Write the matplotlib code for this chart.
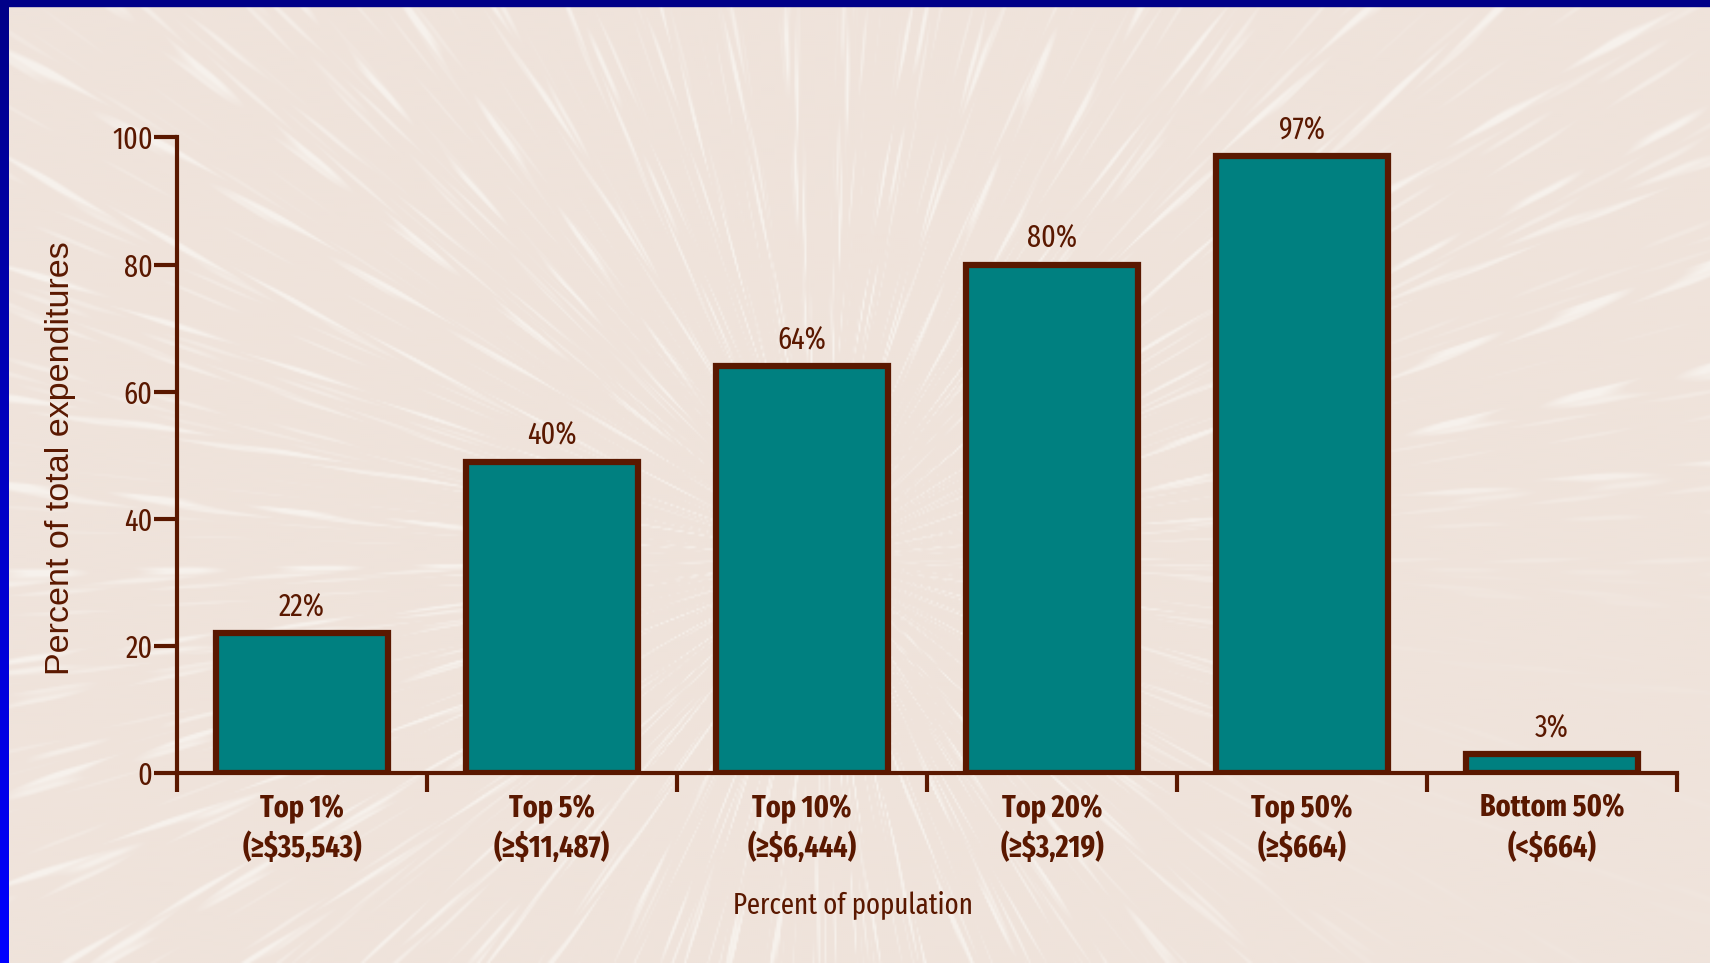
import numpy as np
import matplotlib
matplotlib.use('Agg')
import matplotlib.pyplot as plt
import matplotlib.font_manager as fm
from matplotlib.patches import Rectangle

# data
groups = ['Top 1%', 'Top 5%', 'Top 10%', 'Top 20%', 'Top 50%', 'Bottom 50%']
cutoffs = ['(\u2265$35,543)', '(\u2265$11,487)', '(\u2265$6,444)', '(\u2265$3,219)', '(\u2265$664)', '(<$664)']
heights = [22, 49, 64, 80, 97, 3]          # bar heights as drawn
pct_labels = ['22%', '40%', '64%', '80%', '97%', '3%']   # labels as printed
yticks = [0, 20, 40, 60, 80, 100]

brown = '#5a1800'
teal = '#008080'
plt.rcParams['font.family'] = ['Liberation Sans', 'DejaVu Sans']


# look for a condensed sans face among the installed fonts
def find_narrow(bold):
    want = 700 if bold else 400
    order = ['ExtraCondensed', 'Narrow', 'Condensed', 'SemiCondensed']
    best, best_key = None, None
    for f in fm.fontManager.ttflist:
        fn = f.fname.replace('-', '').replace('_', '')
        if f.style != 'normal':
            continue
        rank = None
        for i, tag in enumerate(order):
            if tag in fn and not (tag == 'Condensed' and ('Extra' in fn or 'Semi' in fn)):
                rank = i
                break
        if rank is None:
            continue
        wt = f.weight if isinstance(f.weight, int) else fm.weight_dict.get(f.weight, 400)
        key = (rank, abs(wt - want))
        if best_key is None or key < best_key:
            best, best_key = f.fname, key
    if best is None:
        return fm.FontProperties(family='Liberation Sans', weight='bold' if bold else 'normal')
    return fm.FontProperties(fname=best)


reg = find_narrow(False)
bld = find_narrow(True)

W, H = 1710, 963
fig = plt.figure(figsize=(W / 100, H / 100), dpi=100)

# --- background: beige with soft light streaks radiating from the middle
h, w = 481, 855
yy, xx = np.mgrid[0:h, 0:w]
cx, cy = 0.48 * w, 0.58 * h
a = np.arctan2(yy - cy, xx - cx)
r = np.hypot(yy - cy, xx - cx)
streak = (0.35 * np.sin(53 * a) + 0.25 * np.sin(119 * a + 1.1)
          + 0.2 * np.sin(241 * a + 2.3) + 0.2 * np.sin(467 * a + 0.4))
s = np.clip((streak - 0.1) / 0.5, 0, 1)
dash = np.clip(1.6 * (0.5 + 0.5 * np.sin(r / 11 + 4 * np.sin(83 * a))) - 0.4, 0, 1)
near = np.clip(r / 80, 0, 1)
fade = 1 - 0.85 * np.clip((xx / w - 0.62) / 0.2, 0, 1) * np.clip((yy / h - 0.45) / 0.2, 0, 1)
mask = (s * dash * near * fade * 0.7)[..., None]
base = np.array([239, 227, 219]) / 255
white = np.array([250, 248, 244]) / 255
img = base * (1 - mask) + white * mask
bg = fig.add_axes([0, 0, 1, 1], zorder=0)
bg.imshow(img, aspect='auto', extent=[0, 1, 0, 1], interpolation='bilinear')
bg.axis('off')

# blue frame: top strip and left strip with gradient
fig.patches.append(Rectangle((0, 1 - 6 / H), 1, 6 / H, transform=fig.transFigure,
                             color='#000088', zorder=5))
lb = fig.add_axes([0, 0, 8 / W, 1], zorder=5)
grad = np.linspace(0, 1, 256)[:, None, None]
top_c = np.array([0, 0, 0x88]) / 255
bot_c = np.array([0, 0, 0xff]) / 255
lb.imshow(top_c * (1 - grad) + bot_c * grad, aspect='auto', extent=[0, 1, 0, 1])
lb.axis('off')

# --- main chart
ax = fig.add_axes([177 / W, 1 - 773 / H, 1500 / W, (773 - 137.4) / H], zorder=2)
ax.patch.set_alpha(0)

centers = np.arange(len(groups)) + 0.5
ax.bar(centers, heights, width=0.69, color=teal, edgecolor=brown,
       linewidth=4.5, zorder=2)

for x, hgt, lab in zip(centers, heights, pct_labels):
    ax.annotate(lab, (x, hgt), xytext=(0, 12), textcoords='offset points',
                ha='center', va='baseline', fontproperties=reg, fontsize=22, color=brown)

ax.set_xlim(0, 6)
ax.set_ylim(0, 100)
ax.set_xticks(np.arange(7))
ax.set_xticklabels([])
ax.set_xticks(centers, [g + '\n' + c for g, c in zip(groups, cutoffs)], minor=True)
ax.tick_params(axis='x', which='major', length=14, width=3, color=brown, direction='out')
ax.tick_params(axis='x', which='minor', length=0, pad=15, labelcolor=brown)
for t in ax.get_xticklabels(minor=True):
    t.set_fontproperties(bld)
    t.set_fontsize(22)
    t.set_linespacing(1.35)

ax.set_yticks(yticks)
ax.tick_params(axis='y', length=16.5, width=3, color=brown, pad=1, labelcolor=brown)
for t in ax.get_yticklabels():
    t.set_fontproperties(reg)
    t.set_fontsize(22)

for side in ['top', 'right']:
    ax.spines[side].set_visible(False)
for side in ['left', 'bottom']:
    ax.spines[side].set_linewidth(3)
    ax.spines[side].set_color(brown)

fig.text(853 / W, 1 - 913 / H, 'Percent of population', ha='center', va='baseline',
         fontproperties=reg, fontsize=21, color=brown)
fig.text(60 / W, 1 - 458 / H, 'Percent of total expenditures', rotation=90,
         ha='center', va='center', fontsize=24.5, color=brown)

fig.savefig('out.png', dpi=100)
